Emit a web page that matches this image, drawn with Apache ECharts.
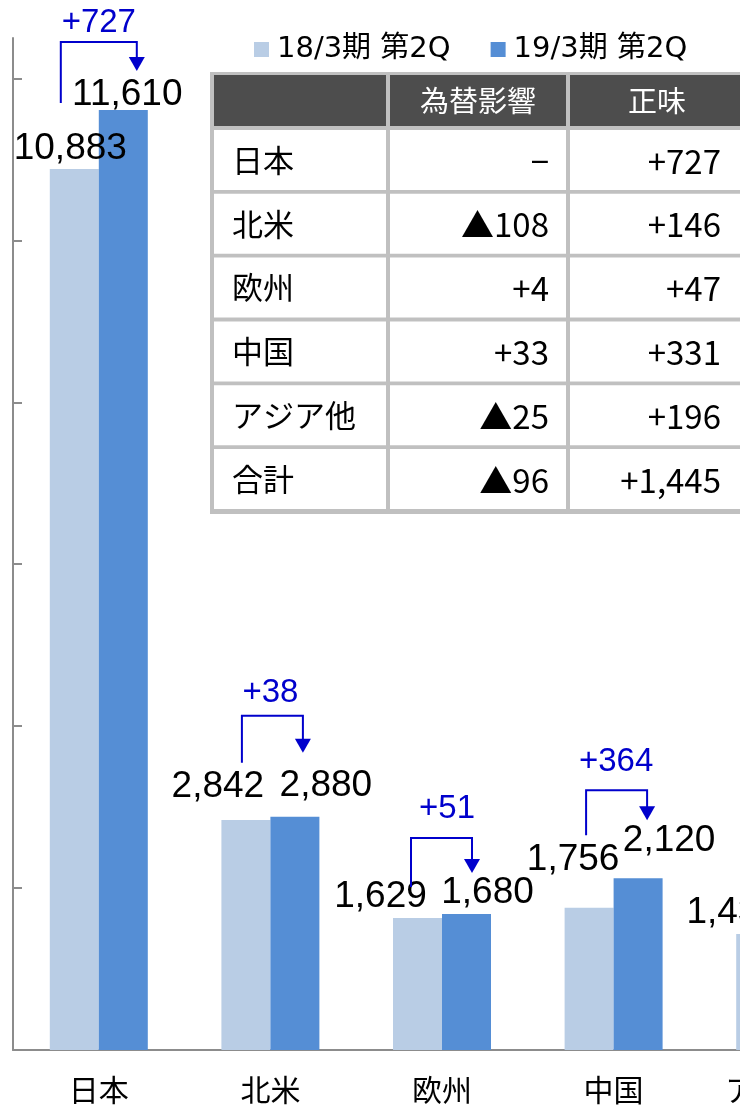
<!DOCTYPE html>
<html>
<head>
<meta charset="utf-8">
<script src="https://cdn.jsdelivr.net/npm/echarts@6/dist/echarts.min.js"></script>
<style>
html,body{margin:0;padding:0;background:#fff;}
#chart{width:740px;height:1105px;}
</style>
</head>
<body>
<div id="chart"></div>
<script>
// 地域別売上 (第2Q)
var regions = ['日本', '北米', '欧州', '中国', 'アジア他'];
var prevQ = [10883, 2842, 1629, 1756, 1432];
var currQ = [11610, 2880, 1680, 2120, 1603];
var changes = ['+727', '+38', '+51', '+364', '+171'];
var seriesNames = ['18/3期 第2Q', '19/3期 第2Q'];
var yTicks = [0, 2000, 4000, 6000, 8000, 10000, 12000];

// 増減内訳の表
var tableHeader = ['', '為替影響', '正味'];
var tableRows = ['日本', '北米', '欧州', '中国', 'アジア他', '合計'];
var fxImpact = ['−', '▲108', '+4', '+33', '▲25', '▲96'];
var netChange = ['+727', '+146', '+47', '+331', '+196', '+1,445'];

// layout only: value label shift [dx, gap above bar]
var prevLabelPos = [[-4, 8], [-28, 21], [-37, 9], [-16, 36], [-28, 9]];
var currLabelPos = [[4, 3], [31, 19], [21, 9], [31, 25], [25, 9]];
// bracket: [leftDx, rightDx, lineUp, tipUp, leftEndUp, labelDx, labelGap]
var bracketShape = [
  [-38, 38, 68, 39, 7, 0, 8],
  [-28.5, 32.5, 101, 64, 54, 0, 11],
  [-31, 30, 76, 41, 27, 5, 18],
  [-27.5, 33.5, 88, 58, 43, 2.5, 17],
  [-30, 32, 80, 45, 30, 0, 12]
];

var LIGHT = '#B9CDE5', DARK = '#558ED5', BLUE = '#0000CC', AXIS = '#8C8C8C';
var JP = "'Noto Sans CJK JP'";
var NUM = "'Liberation Sans', Arial";

function barData(vals, pos) {
  return vals.map(function (v, i) {
    return { value: v, label: { offset: [pos[i][0], -(pos[i][1] - 6)] } };
  });
}

function renderBracket(params, api) {
  var i = api.value(0);
  var top = api.coord([i, api.value(2)]);
  var s = bracketShape[i];
  var lx = top[0] + s[0], rx = top[0] + s[1];
  var hy = top[1] - s[2], ty = top[1] - s[3], ly = top[1] - s[4];
  return {
    type: 'group',
    children: [
      { type: 'polyline', shape: { points: [[lx, ly], [lx, hy], [rx, hy], [rx, ty - 13]] },
        style: { stroke: BLUE, lineWidth: 2, fill: null } },
      { type: 'polygon', shape: { points: [[rx - 8, ty - 14], [rx + 8, ty - 14], [rx, ty]] },
        style: { fill: BLUE } },
      { type: 'text', x: top[0] + s[5], y: hy - (s[6] - 5),
        style: { text: changes[i], fill: BLUE, font: '33px ' + NUM, align: 'center', verticalAlign: 'bottom' } }
    ]
  };
}

// table as graphic elements
function buildTable() {
  var colX = [214, 390, 570], colW = [172, 176, 174];
  var els = [{ type: 'rect', shape: { x: 210, y: 72, width: 534, height: 442 }, style: { fill: '#C0C0C0' } }];
  tableHeader.forEach(function (h, c) {
    els.push({ type: 'rect', shape: { x: colX[c], y: 75, width: colW[c], height: 51 }, style: { fill: '#4D4D4D' } });
    if (h) els.push({ type: 'text', x: colX[c] + colW[c] / 2, y: 101,
      style: { text: h, fill: '#fff', font: '29px ' + JP, align: 'center', verticalAlign: 'middle' } });
  });
  tableRows.forEach(function (r, k) {
    var y = 130 + k * 63.8;
    for (var c = 0; c < 3; c++) {
      els.push({ type: 'rect', shape: { x: colX[c], y: y, width: colW[c], height: 60 }, style: { fill: '#fff' } });
    }
    els.push({ type: 'text', x: 232, y: y + 30,
      style: { text: r, fill: '#000', font: '31px ' + JP, align: 'left', verticalAlign: 'middle' } });
    els.push({ type: 'text', x: 549, y: y + 31,
      style: { text: fxImpact[k], fill: '#000', font: '33px ' + JP, align: 'right', verticalAlign: 'middle' } });
    els.push({ type: 'text', x: 721, y: y + 31,
      style: { text: netChange[k], fill: '#000', font: '33px ' + JP, align: 'right', verticalAlign: 'middle' } });
  });
  return els;
}

var chart = echarts.init(document.getElementById('chart'));
chart.setOption({
  animation: false,
  backgroundColor: '#fff',
  grid: { left: 13, top: 38, bottom: 55, width: 858, containLabel: false, outerBoundsMode: 'none' },
  legend: {
    data: seriesNames, left: 254, top: 35, padding: 0,
    icon: 'rect', itemWidth: 15, itemHeight: 15, itemGap: 40,
    textStyle: { fontFamily: "'DejaVu Sans', 'Noto Sans CJK JP'", fontSize: 29, color: '#000', padding: [0, 0, 0, 3] }
  },
  xAxis: {
    type: 'category', data: regions,
    axisLine: { lineStyle: { color: AXIS, width: 2 } },
    axisTick: { inside: true, length: 9, lineStyle: { color: AXIS, width: 2 } },
    axisLabel: { margin: 25, fontFamily: JP, fontSize: 30, color: '#000' }
  },
  yAxis: {
    type: 'value', min: 0, max: 12500, interval: 2000,
    splitLine: { show: false },
    axisLine: { show: true, lineStyle: { color: AXIS, width: 2 } },
    axisTick: { show: true, inside: true, length: 9, customValues: yTicks, lineStyle: { color: AXIS, width: 2 } },
    axisLabel: { show: false }
  },
  series: [
    { name: seriesNames[0], type: 'bar', barWidth: 49, barGap: '0%', data: barData(prevQ, prevLabelPos),
      itemStyle: { color: LIGHT },
      label: { show: true, position: 'top', distance: 0, fontFamily: NUM, fontSize: 37, color: '#000',
        formatter: function (p) { return p.value.toLocaleString('en-US'); } } },
    { name: seriesNames[1], type: 'bar', barWidth: 49, data: barData(currQ, currLabelPos),
      itemStyle: { color: DARK },
      label: { show: true, position: 'top', distance: 0, fontFamily: NUM, fontSize: 37, color: '#000',
        formatter: function (p) { return p.value.toLocaleString('en-US'); } } },
    { type: 'custom', renderItem: renderBracket, silent: true, z: 5,
      encode: { x: 0, y: 2 },
      data: regions.map(function (r, i) { return [i, prevQ[i], currQ[i]]; }) }
  ],
  graphic: buildTable()
});
</script>
</body>
</html>
